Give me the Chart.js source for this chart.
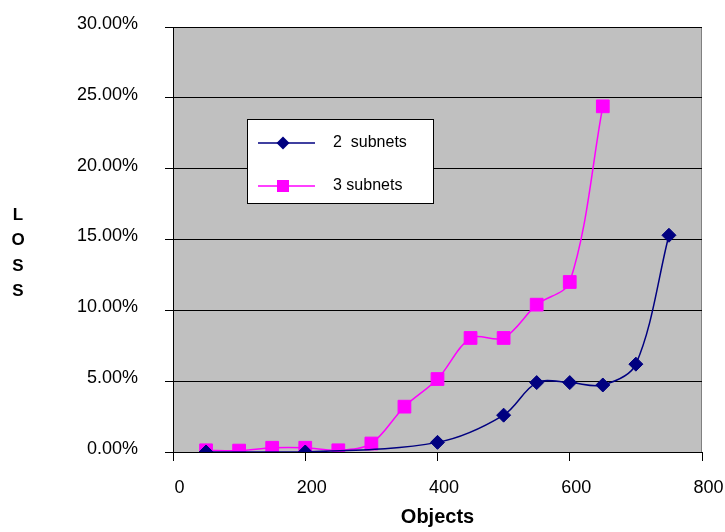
<!DOCTYPE html>
<html>
<head>
<meta charset="utf-8">
<script src="https://cdn.jsdelivr.net/npm/chart.js@4/dist/chart.umd.min.js"></script>
<style>
  body { margin: 0; background: #fff; }
  #wrap { width: 725px; height: 532px; }
</style>
</head>
<body>
<div id="wrap"><canvas id="myChart" width="725" height="532"></canvas></div>
<script>
// values (x = objects, y = loss as a fraction)
const twoSubnetsX = [50, 200, 400, 500, 550, 600, 650, 700, 750];
const twoSubnetsY = [0, 0, 0.0068, 0.026, 0.049, 0.049, 0.0473, 0.062, 0.153];

const threeSubnetsX = [50, 100, 150, 200, 250, 300, 350, 400, 450, 500, 550, 600, 650];
const threeSubnetsY = [0.0012, 0.001, 0.003, 0.003, 0.0012, 0.006, 0.032, 0.0515, 0.0805, 0.0805, 0.104, 0.12, 0.244];

const seriesNames = ['2  subnets', '3 subnets'];
const xTicks = [0, 200, 400, 600, 800];
const yTicks = [0, 0.05, 0.10, 0.15, 0.20, 0.25, 0.30];

const navy = '#000080';
const magenta = '#FF00FF';

function toPoints(xs, ys) {
    return xs.map((x, i) => ({ x: x, y: ys[i] }));
}

// grey plot area like the old excel charts
const plotBackground = {
    id: 'plotBackground',
    beforeDraw(chart) {
        const { ctx, chartArea: a } = chart;
        ctx.save();
        ctx.fillStyle = '#C0C0C0';
        ctx.fillRect(a.left, a.top, a.right - a.left, a.bottom - a.top);
        ctx.strokeStyle = '#808080';
        ctx.lineWidth = 1;
        ctx.strokeRect(a.left + 0.5, a.top + 0.5, a.right - a.left - 1, a.bottom - a.top);
        ctx.restore();
    }
};

// boxed legend inside the plot + the stacked "LOSS" title
const boxLegend = {
    id: 'boxLegend',
    afterDraw(chart) {
        const ctx = chart.ctx;
        ctx.save();
        // y title, one letter per line
        ctx.font = 'bold 17px "Liberation Sans", Arial, sans-serif';
        ctx.fillStyle = '#000';
        ctx.textAlign = 'center';
        ctx.textBaseline = 'middle';
        ['L', 'O', 'S', 'S'].forEach((ch, i) => ctx.fillText(ch, 18, 215 + i * 25.5));

        // legend box
        const bx = 247, by = 119, bw = 186, bh = 84;
        ctx.fillStyle = '#fff';
        ctx.fillRect(bx, by, bw, bh);
        ctx.strokeStyle = '#000';
        ctx.lineWidth = 1;
        ctx.strokeRect(bx + 0.5, by + 0.5, bw, bh);

        chart.data.datasets.forEach((ds, i) => {
            const yy = 143 + i * 43;
            ctx.strokeStyle = ds.borderColor;
            ctx.lineWidth = 1.5;
            ctx.beginPath();
            ctx.moveTo(258, yy);
            ctx.lineTo(315, yy);
            ctx.stroke();
            ctx.fillStyle = ds.pointBackgroundColor;
            ctx.beginPath();
            if (ds.pointStyle === 'rectRot') {
                const r = 6.5;
                ctx.moveTo(283 - r, yy);
                ctx.lineTo(283, yy - r);
                ctx.lineTo(283 + r, yy);
                ctx.lineTo(283, yy + r);
                ctx.closePath();
            } else {
                ctx.rect(283 - 6, yy - 6, 12, 12);
            }
            ctx.fill();
            ctx.fillStyle = '#000';
            ctx.textAlign = 'left';
            ctx.font = '16px "Liberation Sans", Arial, sans-serif';
            ctx.fillText(seriesNames[i], 333, yy);
        });
        ctx.restore();
    }
};

const font = {
    family: '"Liberation Sans", Arial, sans-serif',
    size: 18,
};

var myChart = new Chart(document.getElementById('myChart'), {
    type: 'scatter',
    data: {
        datasets: [
            {
                label: seriesNames[0],
                data: toPoints(twoSubnetsX, twoSubnetsY),
                showLine: true,
                borderColor: navy,
                borderWidth: 1.5,
                tension: 0.33,
                pointStyle: 'rectRot',
                pointRadius: 7,
                pointBackgroundColor: navy,
                pointBorderColor: navy,
                pointBorderWidth: 1,
            },
            {
                label: seriesNames[1],
                data: toPoints(threeSubnetsX, threeSubnetsY),
                showLine: true,
                borderColor: magenta,
                borderWidth: 1.5,
                tension: 0.33,
                pointStyle: 'rect',
                pointRadius: 9,
                pointBackgroundColor: magenta,
                pointBorderColor: magenta,
                pointBorderWidth: 1,
            }
        ]
    },
    options: {
        responsive: false,
        animation: false,
        layout: { padding: { top: 27, right: 23, bottom: 0, left: 0 } },
        plugins: {
            legend: { display: false },
            tooltip: { enabled: false },
        },
        scales: {
            x: {
                type: 'linear',
                min: 0,
                max: 800,
                afterBuildTicks: (s) => { s.ticks = xTicks.map(v => ({ value: v })); },
                // fixed height, and no extra room for the end labels
                afterFit: (s) => { s.height = 80; s.paddingLeft = 0; s.paddingRight = 0; },
                ticks: {
                    color: '#000',
                    font: font,
                    padding: 16,
                    labelOffset: 6.5,
                    maxRotation: 0,
                },
                grid: {
                    drawOnChartArea: false,
                    color: '#000',
                    tickLength: 9,
                },
                border: { color: '#000' },
                title: {
                    display: true,
                    text: 'Objects',
                    color: '#000',
                    font: { family: font.family, size: 20, weight: 'bold' },
                    padding: { top: 0, bottom: 3 },
                },
            },
            y: {
                min: 0,
                max: 0.30,
                afterBuildTicks: (s) => { s.ticks = yTicks.map(v => ({ value: v })); },
                afterFit: (s) => { s.width = 173; s.paddingTop = 0; s.paddingBottom = 0; },
                ticks: {
                    color: '#000',
                    font: font,
                    padding: 27,
                    labelOffset: -3,
                    callback: (v) => (v * 100).toFixed(2) + '%',
                },
                grid: {
                    color: '#000',
                    tickLength: 8,
                },
                border: { color: '#000' },
            }
        }
    },
    plugins: [plotBackground, boxLegend]
});
</script>
</body>
</html>
